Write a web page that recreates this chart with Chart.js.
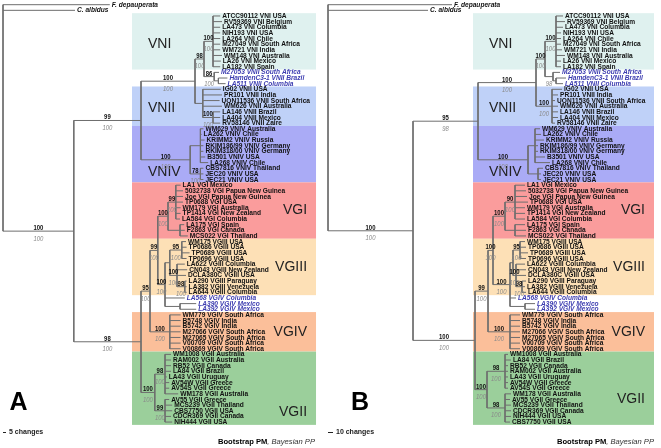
<!DOCTYPE html>
<html>
<head>
<meta charset="utf-8">
<script src="https://cdn.jsdelivr.net/npm/chart.js@4.4.1/dist/chart.umd.min.js"></script>
<style>
html, body { margin: 0; padding: 0; background: #fff; }
#wrap { position: relative; width: 661px; height: 448px; overflow: hidden; }
canvas { position: absolute; top: 0; }
</style>
</head>
<body>
<div id="wrap">
  <canvas id="treeA" width="326" height="448" style="left:0"></canvas>
  <canvas id="treeB" width="335" height="448" style="left:326px"></canvas>
</div>
<script>
// tip labels, top to bottom
const outgroups = ['F. depauperata', 'C. albidus'];
const tipsVNI = ['ATCC90112 VNI USA', 'RV59369 VNI Belgium', 'LA473 VNI Columbia', 'NIH193 VNI USA', 'LA264 VNI Chile',
  'M27049 VNI South Africa', 'WM721 VNI India', 'WM148 VNI Australia', 'LA26 VNI Mexico', 'LA182 VNI Spain'];
const tipsVNIIout = ['M27053 VNII South Africa', 'HamdenC3-1 VNII Brazil', 'LA511 VNII Columbia'];
const tipsVNII = ['IG02 VNII USA', 'PR101 VNII India', 'UON11536 VNII South Africa', 'WM626 VNII Australia',
  'LA146 VNII Brazil', 'LA404 VNII Mexico', 'RV58146 VNII Zaire'];
const tipsVNIV = ['WM629 VNIV Australia', 'LA262 VNIV Chile', 'KRIMM2 VNIV Russia', 'RKIM186/99 VNIV Germany',
  'RKIM318/00 VNIV Germany', 'B3501 VNIV USA', 'LA268 VNIV Chile', 'CBS7816 VNIV Thailand', 'JEC20 VNIV USA', 'JEC21 VNIV USA'];
const tipsVGI = ['LA1 VGI Mexico', '5032738 VGI Papua New Guinea', 'Joe VGI Papua New Guinea', 'TP0688 VGI USA',
  'WM179 VGI Australia', 'TP1414 VGI New Zealand', 'LA584 VGI Columbia', 'LA175 VGI Spain', 'F2863 VGI Canada', 'MCS022 VGI Thailand'];
const tipsVGIII = ['WM175 VGIII USA', 'TP0686 VGIII USA', 'TP0689 VGIII USA', 'TP0696 VGIII USA', 'LA622 VGIII Columbia',
  'CN043 VGIII New Zealand', 'DCLA380C VGIII USA', 'LA290 VGIII Paraguay', 'LA382 VGIII Venezuela', 'LA644 VGIII Columbia'];
const tipsVGIVout = ['LA568 VGIV Columbia', 'LA390 VGIV Mexico', 'LA392 VGIV Mexico'];
const tipsVGIV = ['WM779 VGIV South Africa', 'B5748 VGIV India', 'B5742 VGIV India', 'M27066 VGIV South Africa',
  'M27065 VGIV South Africa', 'V00709 VGIV South Africa', 'V00869 VGIV South Africa'];
const tipsVGII_A = ['WM1008 VGII Australia', 'RAM002 VGII Australia', 'RB52 VGII Canada', 'LA84 VGII Brazil', 'LA43 VGII Uruguay',
  'AV54W VGII Greece', 'AV54S VGII Greece', 'WM178 VGII Australia', 'AV55 VGII Greece', 'MCS239 VGII Thailand',
  'CBS7750 VGII USA', 'CDCR369 VGII Canada', 'NIH444 VGII USA'];
const tipsVGII_B = ['WM1008 VGII Australia', 'LA84 VGII Brazil', 'RB52 VGII Canada', 'RAM002 VGII Australia', 'LA43 VGII Uruguay',
  'AV54W VGII Greece', 'AV54S VGII Greece', 'WM178 VGII Australia', 'AV55 VGII Greece', 'MCS239 VGII Thailand',
  'CDCR369 VGII Canada', 'NIH444 VGII USA', 'CBS7750 VGII USA'];

const cladeNames = ['VNI', 'VNII', 'VNIV', 'VGI', 'VGIII', 'VGIV', 'VGII'];
const cladeColors = ['#dff1ef', '#bfd1f8', '#aaabf6', '#fa9c9c', '#fde0b6', '#fbbf9a', '#9bcf9b'];

// trees: tips are indices into the tip list, branch lengths in changes, node labels "bootstrap/PP"
const treeA = `(0:178,1:120,(((((2:12,3:15,4:12,5:12,6:12,7:12,8:12,9:15,10:13,11:12)100/100:15,
 (12:8,(13:15,14:12):7)86/100:17)98/100:15,
 (15:30,16:32,17:28,18:32,(19:12,20:12,21:12)100/100:17):13)100/100:90,
 ((22:5,23:2,24:7,25:5,26:5,27:8,28:13):17,(29:5,30:5,31:5)78/100:17)100/100:82)99/100:112,
 (((((32:8,33:12,34:12,35:12,36:8,37:8,38:7)99/100:13,(39:7,40:8,41:13):20)100/100:17,
 (((42:7,43:8,44:13,45:8)95/100:20,(46:13,47:17,48:15,(49:3,50:3,51:3)98/100:13)100/100:12):8,
 52:33,(53:27,54:27):25)100/100:12)99/100:13,
 (55:18,56:18,57:18,58:18,59:18,60:18,61:18)100/100:33)95/100:15,
 ((62:10,63:10,64:10,65:10,66:3,67:7,68:7,69:22)98/100:17,(70:7,71:12,72:12,73:10,74:12)99/100:17)100/100:23)98/100:112)100/100:118);`;

const treeB = `(0:248,1:200,(((((2:14,3:18,4:14,5:10,6:10,7:10,8:12,9:18,10:10,11:10)100/100:22,
 (12:14,(13:20,14:14):6)/98:16)100/100:18,
 (15:20,16:12,17:6,18:12,19:12,20:12,21:6)100/100:32)100/100:116,
 ((22:10,23:12,24:18,25:6,26:6,27:20,28:30):14,(29:10,30:6,31:6):20)100/100:100)95/98:130,
 (((((32:20,33:22,34:24,35:26,36:20,37:20,38:20)90/100:20,(39:20,40:22,41:22):20)100/100:24,
 (((42:10,43:12,44:16,45:12)95/100:14,(46:18,47:20,48:20,(49:8,50:6,51:8)98/100:12)100/100:6):6,
 52:12,(53:20,54:20):30)100/100:34)100/100:10,
 (55:20,56:20,57:20,58:20,59:20,60:20,61:20)100/100:44)99/100:26,
 ((62:6,63:12,64:6,65:6,66:6,67:6,68:6)98/100:36,(69:12,70:10,71:12,72:12,73:12,74:10)98/100:36)100/100:24)100/100:124)100/100:170);`;

function parseNewick(str) {
  const s = str.replace(/\s+/g, '');
  let i = 0;
  function node() {
    const n = { children: [], name: '', len: 0 };
    if (s[i] === '(') {
      i++;
      n.children.push(node());
      while (s[i] === ',') { i++; n.children.push(node()); }
      i++;
    }
    while (i < s.length && !':,();'.includes(s[i])) n.name += s[i++];
    if (s[i] === ':') {
      i++;
      let num = '';
      while (i < s.length && !',();'.includes(s[i])) num += s[i++];
      n.len = parseFloat(num);
    }
    return n;
  }
  return node();
}

function layoutTree(root) {
  const nodes = [];
  (function walk(n, x0) {
    n.x0 = x0;
    n.x = x0 + n.len;
    if (n.children.length) {
      n.children.forEach(c => walk(c, n.x));
      n.y = (n.children[0].y + n.children[n.children.length - 1].y) / 2;
    } else {
      n.y = +n.name;
    }
    nodes.push(n);
  })(root, 0);
  return nodes;
}

function branchSegments(nodes) {
  const pts = [];
  const gap = { x: null, y: null };
  nodes.forEach(n => {
    if (n.len > 0) pts.push({ x: n.x0, y: n.y }, { x: n.x, y: n.y }, gap);
    if (n.children.length) {
      pts.push({ x: n.x, y: n.children[0].y }, { x: n.x, y: n.children[n.children.length - 1].y }, gap);
    }
  });
  return pts;
}

function condText(ctx, str, x, y, sx, align) {
  ctx.save();
  ctx.translate(x, y);
  ctx.scale(sx, 1);
  ctx.textAlign = align;
  ctx.fillText(str, 0, 0);
  ctx.restore();
}

const FONT = '"Liberation Sans", Arial, sans-serif';

function makePanel(p) {
  const tips = [...outgroups, ...tipsVNI, ...tipsVNIIout, ...tipsVNII, ...tipsVNIV,
    ...tipsVGI, ...tipsVGIII, ...tipsVGIVout, ...tipsVGIV, ...p.vgii];
  const blue = new Set([...tipsVNIIout, ...tipsVGIVout]);
  const clades = [tipsVNI, tipsVNII, tipsVNIV, tipsVGI, tipsVGIII, tipsVGIV, p.vgii].map(list => {
    const first = tips.indexOf(list[0]);
    return { first, last: first + list.length - 1 };
  });
  const nodes = layoutTree(parseNewick(p.newick));

  const decor = {
    id: 'treeDecor',
    beforeDatasetsDraw(chart) {
      const ctx = chart.ctx, xs = chart.scales.x, ys = chart.scales.y;
      const bx0 = xs.getPixelForValue(p.band[0]), bx1 = xs.getPixelForValue(p.band[1]);
      clades.forEach((c, k) => {
        const top = ys.getPixelForValue(c.first - 0.5), bot = ys.getPixelForValue(c.last + 0.5);
        ctx.fillStyle = cladeColors[k];
        ctx.fillRect(bx0, top, bx1 - bx0, bot - top);
      });
    },
    afterDatasetsDraw(chart) {
      const ctx = chart.ctx, xs = chart.scales.x, ys = chart.scales.y;
      const bx0 = xs.getPixelForValue(p.band[0]), bx1 = xs.getPixelForValue(p.band[1]);
      ctx.save();
      // clade names
      ctx.font = '14px ' + FONT;
      ctx.fillStyle = '#222';
      ctx.textBaseline = 'middle';
      cladeNames.forEach((name, k) => {
        const y = ys.getPixelForValue(p.cladeRow[k]);
        if (k < 3) { ctx.textAlign = 'left'; ctx.fillText(name, bx0 + 16, y); }
        else { ctx.textAlign = 'right'; ctx.fillText(name, bx1 - 9, y); }
      });
      // tip labels
      nodes.filter(n => !n.children.length).forEach(n => {
        const i = +n.name, txt = tips[i];
        const x = xs.getPixelForValue(n.x) + 2, y = ys.getPixelForValue(i);
        if (i < 2) { ctx.font = 'bold italic 7.5px ' + FONT; ctx.fillStyle = '#111'; }
        else if (blue.has(txt)) { ctx.font = 'bold italic 7.5px ' + FONT; ctx.fillStyle = '#3c3cb0'; }
        else { ctx.font = 'bold 7.5px ' + FONT; ctx.fillStyle = '#111'; }
        condText(ctx, txt, x, y, 0.88, 'left');
      });
      // support values
      ctx.textBaseline = 'alphabetic';
      nodes.filter(n => n.children.length && n.name).forEach(n => {
        const [bs, pp] = n.name.split('/');
        const mx = (xs.getPixelForValue(n.x0) + xs.getPixelForValue(n.x)) / 2;
        const y = ys.getPixelForValue(n.y);
        if (bs) { ctx.font = 'bold 7px ' + FONT; ctx.fillStyle = '#111'; condText(ctx, bs, mx, y - 1, 0.85, 'center'); }
        if (pp) { ctx.font = 'italic 7px ' + FONT; ctx.fillStyle = '#8a8a8a'; condText(ctx, pp, mx, y + 9.5, 0.85, 'center'); }
      });
      // scale bar
      const sx0 = xs.getPixelForValue(0), sx1 = xs.getPixelForValue(p.scaleBar);
      ctx.strokeStyle = '#222';
      ctx.lineWidth = 1;
      ctx.beginPath();
      ctx.moveTo(sx0, 432.5);
      ctx.lineTo(sx1, 432.5);
      ctx.stroke();
      ctx.font = 'bold 7px ' + FONT;
      ctx.fillStyle = '#222';
      ctx.textBaseline = 'middle';
      ctx.textAlign = 'left';
      ctx.fillText(p.scaleBar + ' changes', sx1 + 3, 432);
      // panel letter
      ctx.font = 'bold 25px ' + FONT;
      ctx.textAlign = 'center';
      ctx.textBaseline = 'alphabetic';
      ctx.fillStyle = '#000';
      ctx.fillText(p.letter, p.letterX, 410);
      // caption
      ctx.font = 'italic 7.6px ' + FONT;
      const tail = ', Bayesian PP';
      const tw = ctx.measureText(tail).width;
      ctx.textAlign = 'right';
      ctx.fillStyle = '#333';
      ctx.fillText(tail, p.captionRight, 444);
      ctx.font = 'bold 7.6px ' + FONT;
      ctx.fillStyle = '#000';
      ctx.fillText('Bootstrap PM', p.captionRight - tw, 444);
      ctx.restore();
    }
  };

  return new Chart(document.getElementById(p.canvas), {
    type: 'scatter',
    data: {
      datasets: [{
        data: branchSegments(nodes),
        showLine: true,
        spanGaps: false,
        borderColor: '#6e6e6e',
        borderWidth: 1,
        pointRadius: 0,
        pointHoverRadius: 0,
        tension: 0
      }]
    },
    options: {
      responsive: false,
      animation: false,
      events: [],
      layout: { padding: 0 },
      scales: {
        x: { type: 'linear', display: false, min: p.xMin, max: p.xMax },
        y: { type: 'linear', display: false, reverse: true, min: -0.833, max: -0.833 + 448 / 5.64 }
      },
      plugins: { legend: { display: false }, tooltip: { enabled: false } }
    },
    plugins: [decor]
  });
}

makePanel({
  canvas: 'treeA', newick: treeA, vgii: tipsVGII_A,
  xMin: -5, xMax: -5 + 326 / 0.6, band: [215, 521.7],
  cladeRow: [7, 18.3, 29.7, 36.5, 46.5, 58, 72.2],
  scaleBar: 5, letter: 'A', letterX: 18.5, captionRight: 315
});
makePanel({
  canvas: 'treeB', newick: treeB, vgii: tipsVGII_B,
  xMin: -4, xMax: -4 + 335 / 0.5, band: [290, 652],
  cladeRow: [7, 18.3, 29.7, 36.5, 46.5, 58, 70],
  scaleBar: 10, letter: 'B', letterX: 34, captionRight: 328
});
</script>
</body>
</html>
